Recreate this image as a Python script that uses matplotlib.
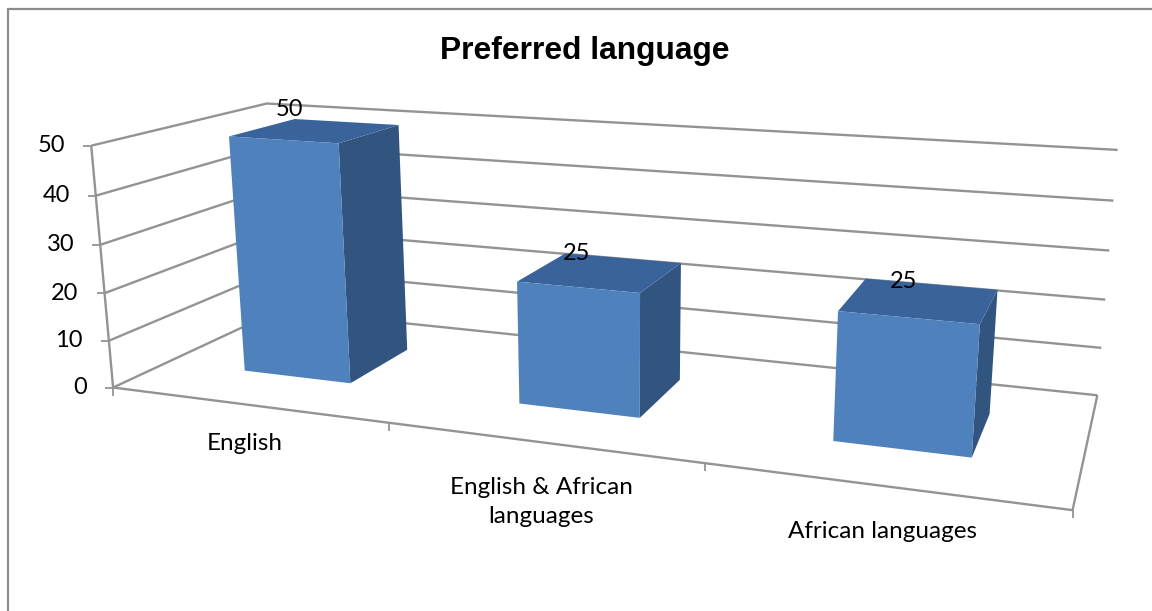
import numpy as np
import matplotlib
matplotlib.use('Agg')
import matplotlib.pyplot as plt
from matplotlib.patches import Polygon

categories = ['English', 'English & African\nlanguages', 'African languages']
values = [50, 25, 25]
y_ticks = [0, 10, 20, 30, 40, 50]
title = 'Preferred language'

# where the box of the 3d chart sits on the image: (category pos, depth, value) -> pixel
ANCHORS = [
    ((0, 0, 0), (112, 387)),
    ((0, 0, 50), (93, 145)),
    ((1, 0, 0), (388, 425)),
    ((2, 0, 0), (705, 465)),
    ((3, 0, 0), (1073, 507)),
    ((3, 1, 0), (1097, 396)),
    ((3, 1, 50), (1118, 150)),
    ((0, 1, 50), (265, 104)),
    ((0, 1, 0), (281, 309)),
]
GAP = 0.3
DEPTH = (0.3, 0.7)
LINE = '#939393'
FRONT = '#4f81bd'
TOP = '#39639a'
SIDE = '#32557f'
TEXT_FONT = ['Lato', 'DejaVu Sans']


def fit_camera(anchors):
    rows = []
    for (u, d, v), (px, py) in anchors:
        p = [u, d, v, 1]
        rows.append(p + [0, 0, 0, 0] + [-px * c for c in p])
        rows.append([0, 0, 0, 0] + p + [-py * c for c in p])
    _, _, vt = np.linalg.svd(np.array(rows, dtype=float))
    return vt[-1].reshape(3, 4)


CAM = fit_camera(ANCHORS)


def project(u, d, v):
    x, y, w = CAM @ np.array([u, d, v, 1.0])
    return x / w, y / w


def gray_line(ax, pts, lw=1.7):
    ax.plot([p[0] for p in pts], [p[1] for p in pts], color=LINE, lw=lw,
            solid_joinstyle='miter', solid_capstyle='butt', zorder=2)


def draw_box(ax, i, val):
    u0, u1 = i + GAP, i + 1 - GAP
    d0, d1 = DEPTH
    front = [project(u0, d0, 0), project(u1, d0, 0), project(u1, d0, val), project(u0, d0, val)]
    side = [project(u1, d0, 0), project(u1, d1, 0), project(u1, d1, val), project(u1, d0, val)]
    top = [project(u0, d0, val), project(u1, d0, val), project(u1, d1, val), project(u0, d1, val)]
    ax.add_patch(Polygon(side, closed=True, fc=SIDE, ec='none', zorder=3))
    ax.add_patch(Polygon(top, closed=True, fc=TOP, ec='none', zorder=3))
    ax.add_patch(Polygon(front, closed=True, fc=FRONT, ec='none', zorder=4))


fig = plt.figure(figsize=(11.52, 6.11), dpi=100)
ax = fig.add_axes([0, 0, 1, 1])
ax.set_xlim(0, 1152)
ax.set_ylim(611, 0)
ax.axis('off')

# chart frame, only the top and left edges are in the picture
ax.plot([8, 8, 1152], [611, 8.5, 8.5], color='#8c8c8c', lw=1.6, solid_joinstyle='miter', zorder=1)

# gridlines along the left wall and the back wall
for v in y_ticks:
    gray_line(ax, [project(0, 0, v), project(0, 1, v), project(3, 1, v)])
    x, y = project(0, 0, v)
    gray_line(ax, [(x - 8, y), (x, y)], lw=1.3)
    ax.text(x - 26, y, str(v), ha='right', va='center', fontsize=17, family=TEXT_FONT, color='black')

# axis and floor
gray_line(ax, [project(0, 0, 50), project(0, 0, 0), project(3, 0, 0), project(3, 1, 0)])
for u in range(len(categories) + 1):
    x, y = project(u, 0, 0)
    gray_line(ax, [(x, y), (x, y + 8)], lw=1.3)

for i, val in enumerate(values):
    draw_box(ax, i, val)

label_pos = [(245, 443), (541, 502), (882, 531)]
for name, (x, y) in zip(categories, label_pos):
    ax.text(x, y, name, ha='center', va='center', fontsize=17.5, family=TEXT_FONT,
            color='black', linespacing=1.45)

value_pos = [(289, 109), (577, 253), (904, 282)]
for val, (x, y) in zip(values, value_pos):
    ax.text(x, y, str(val), ha='center', va='center', fontsize=17, family=TEXT_FONT,
            color='black', zorder=6)

ax.text(584.5, 59, title, ha='center', va='baseline', fontsize=22.9, fontweight='bold',
        family='Liberation Sans', color='black')

fig.savefig('out.png', dpi=100)
